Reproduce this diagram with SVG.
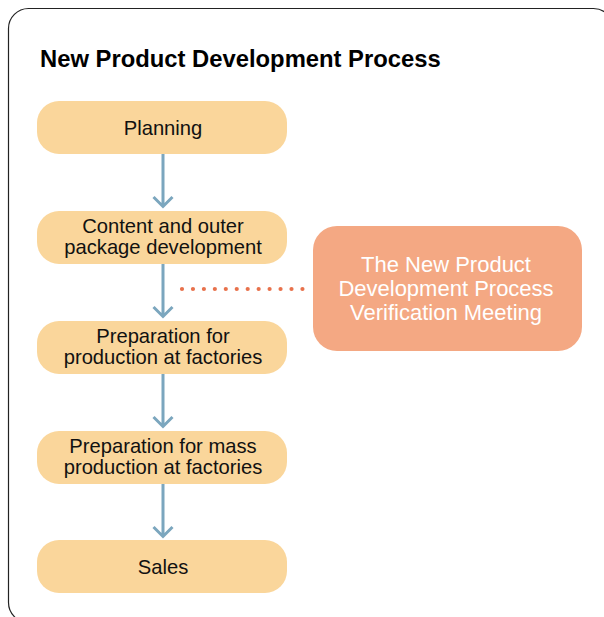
<svg xmlns="http://www.w3.org/2000/svg" width="604" height="617" viewBox="0 0 604 617">
<style>
.frame{fill:#fff;stroke:#222;stroke-width:1.2}
.step{fill:#FAD69B}
.meet{fill:#F4A883}
.t{font-family:"Liberation Sans",Arial,sans-serif;font-size:20.2px;fill:#111;text-anchor:middle}
.tw{font-family:"Liberation Sans",Arial,sans-serif;font-size:22px;fill:#fff;text-anchor:middle}
.title{font-family:"Liberation Sans",Arial,sans-serif;font-size:23.8px;font-weight:bold;fill:#000}
.arrow{stroke:#7BA6BE;stroke-width:3;fill:none}
.dots{stroke:#E8714B;stroke-width:4.2;stroke-linecap:round;stroke-dasharray:0 10.95;fill:none}
</style>
<rect x="0" y="0" width="604" height="617" fill="#fff"/>
<rect class="frame" x="8.5" y="8.5" width="605" height="614" rx="20" ry="20"/>
<text class="title" x="40" y="67">New Product Development Process</text>
<g id="connectors">
<path class="arrow" d="M163 154V206M153.5 197L163 206.5L172.5 197"/>
<path class="arrow" d="M163 264V316M153.5 307L163 316.5L172.5 307"/>
<path class="arrow" d="M163 374V426M153.5 417L163 426.5L172.5 417"/>
<path class="arrow" d="M163 484V536M153.5 527L163 536.5L172.5 527"/>
<path class="dots" d="M182 289H303"/>
</g>
<g id="planning">
<rect class="step" x="37" y="101" width="250" height="53" rx="22"/>
<text class="t" x="163" y="135">Planning</text>
</g>
<g id="content">
<rect class="step" x="37" y="211" width="250" height="53" rx="22"/>
<text class="t" x="163" y="233">Content and outer</text>
<text class="t" x="163" y="254">package development</text>
</g>
<g id="prep">
<rect class="step" x="37" y="321" width="250" height="53" rx="22"/>
<text class="t" x="163" y="343">Preparation for</text>
<text class="t" x="163" y="364">production at factories</text>
</g>
<g id="mass">
<rect class="step" x="37" y="431" width="250" height="53" rx="22"/>
<text class="t" x="163" y="453">Preparation for mass</text>
<text class="t" x="163" y="474">production at factories</text>
</g>
<g id="sales">
<rect class="step" x="37" y="540" width="250" height="53" rx="22"/>
<text class="t" x="163" y="574">Sales</text>
</g>
<g id="meeting">
<rect class="meet" x="313" y="226" width="269" height="125" rx="24"/>
<text class="tw" x="446" y="272">The New Product</text>
<text class="tw" x="446" y="296">Development Process</text>
<text class="tw" x="446" y="320">Verification Meeting</text>
</g>
</svg>
